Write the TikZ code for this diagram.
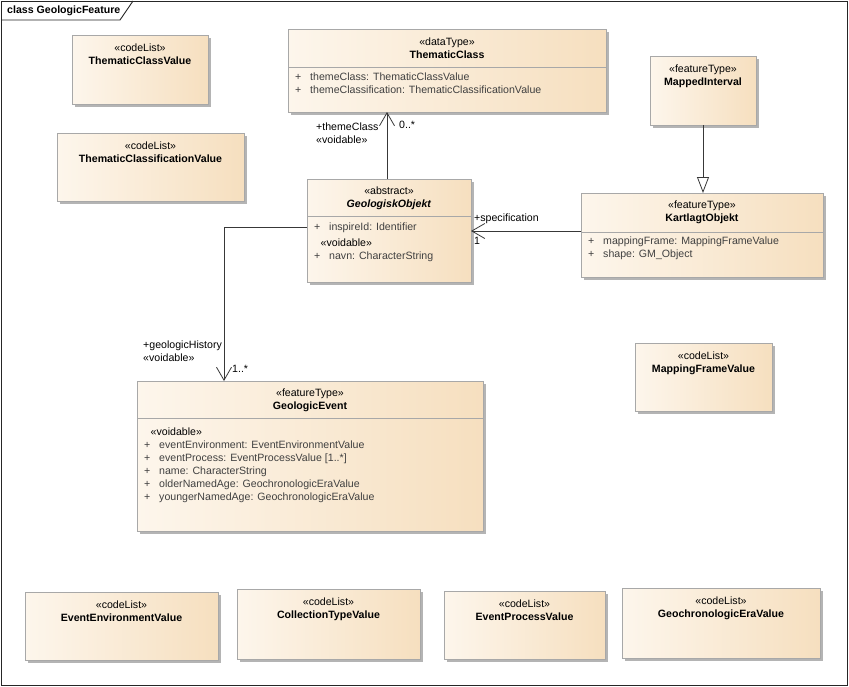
\documentclass[tikz,border=0pt]{standalone}
\usepackage{fontspec}
\setmainfont{Liberation Sans}
\usetikzlibrary{arrows.meta,calc,positioning,shadows}
\definecolor{boxleft}{HTML}{FDF6EC}
\definecolor{boxright}{HTML}{F6DFBF}
\definecolor{boxline}{HTML}{A8A8A8}
\definecolor{boxshadow}{HTML}{B4B4B4}
\colorlet{linkcolor}{black!78}
\colorlet{attrcolor}{black!75}
\newcommand{\plusattr}[1]{\makebox[15pt][l]{+}#1}
\tikzset{
  classbox/.style={
    draw=boxline,
    line width=0.9pt,
    left color=boxleft,
    right color=boxright,
    anchor=north west,
    inner sep=0pt,
    outer sep=0pt,
    general shadow={fill=boxshadow, shadow xshift=3pt, shadow yshift=-3pt}
  },
  classhead/.style={anchor=north, align=center, inner sep=0pt},
  attrs/.style={anchor=north west, align=left, inner sep=0pt, text=attrcolor},
  sepline/.style={boxline, line width=0.9pt},
  frameline/.style={black!85, line width=0.9pt},
  endlabel/.style={inner sep=0pt, text=black},
  assoc/.style={
    linkcolor,
    line width=0.8pt,
    -{Straight Barb[length=13pt,width=15pt]}
  },
  generalization/.style={
    linkcolor,
    line width=0.8pt,
    -{Triangle[open,length=16pt,width=12pt,fill=white]}
  }
}

\begin{document}
\begin{tikzpicture}[x=1pt, y=-1pt, font=\fontsize{10.6}{13}\selectfont]

  % Page and diagram frame.
  \useasboundingbox (0,0) rectangle (849,686);
  \fill[white] (0,0) rectangle (849,686);
  \draw[frameline] (1,1) rectangle (847,685);
  \draw[frameline] (1,20) -- (120,20) -- (133,1);
  \node[anchor=west, inner sep=0pt] (frametitle) at (7,11)
    {\textbf{class GeologicFeature}};

  % Code lists at the top left.
  \node[classbox, minimum width=136pt, minimum height=69pt] (tcv) at (72,35) {};
  \node[classhead] (tcv-t) at ($(tcv.north)+(0,9)$)
    {«codeList»\\\textbf{ThematicClassValue}};

  \node[classbox, minimum width=187pt, minimum height=68pt] (tclv) at (57,133) {};
  \node[classhead] (tclv-t) at ($(tclv.north)+(0,9)$)
    {«codeList»\\\textbf{ThematicClassificationValue}};

  % Thematic class.
  \node[classbox, minimum width=318pt, minimum height=83pt] (tc) at (288,29) {};
  \node[classhead] (tc-t) at ($(tc.north)+(0,9)$)
    {«dataType»\\\textbf{ThematicClass}};
  \draw[sepline] ($(tc.north west)+(0,38)$) -- ($(tc.north east)+(0,38)$);
  \node[attrs] (tc-a) at ($(tc.north west)+(7,44)$)
    {\plusattr{themeClass: ThematicClassValue}\\
     \plusattr{themeClassification: ThematicClassificationValue}};

  % Mapped interval and mapped object.
  \node[classbox, minimum width=106pt, minimum height=69pt] (mi) at (650,56) {};
  \node[classhead] (mi-t) at ($(mi.north)+(0,9)$)
    {«featureType»\\\textbf{MappedInterval}};

  \node[classbox, minimum width=242pt, minimum height=84pt] (ko) at (581,193) {};
  \node[classhead] (ko-t) at ($(ko.north)+(0,8)$)
    {«featureType»\\\textbf{KartlagtObjekt}};
  \draw[sepline] ($(ko.north west)+(0,39)$) -- ($(ko.north east)+(0,39)$);
  \node[attrs] (ko-a) at ($(ko.north west)+(7,44)$)
    {\plusattr{mappingFrame: MappingFrameValue}\\
     \plusattr{shape: GM\_Object}};

  \node[classbox, minimum width=137pt, minimum height=68pt] (mfv) at (635,343) {};
  \node[classhead] (mfv-t) at ($(mfv.north)+(0,9)$)
    {«codeList»\\\textbf{MappingFrameValue}};

  % Abstract geologic object.
  \node[classbox, minimum width=164pt, minimum height=103pt] (go) at (307,179) {};
  \node[classhead] (go-t) at ($(go.north)+(0,8)$)
    {«abstract»\\\textbf{\itshape GeologiskObjekt}};
  \draw[sepline] ($(go.north west)+(0,37)$) -- ($(go.north east)+(0,37)$);
  \node[attrs] (go-a) at ($(go.north west)+(7,44)$)
    {\plusattr{inspireId: Identifier}\\[3pt]
     \hspace*{6.5pt}{\color{black}«voidable»}\\
     \plusattr{navn: CharacterString}};

  % Geologic event.
  \node[classbox, minimum width=346pt, minimum height=150pt] (ge) at (137,381) {};
  \node[classhead] (ge-t) at ($(ge.north)+(0,8)$)
    {«featureType»\\\textbf{GeologicEvent}};
  \draw[sepline] ($(ge.north west)+(0,37)$) -- ($(ge.north east)+(0,37)$);
  \node[attrs] (ge-a) at ($(ge.north west)+(7,47)$)
    {\hspace*{6.5pt}{\color{black}«voidable»}\\
     \plusattr{eventEnvironment: EventEnvironmentValue}\\
     \plusattr{eventProcess: EventProcessValue [1..*]}\\
     \plusattr{name: CharacterString}\\
     \plusattr{olderNamedAge: GeochronologicEraValue}\\
     \plusattr{youngerNamedAge: GeochronologicEraValue}};

  % Code lists along the bottom.
  \node[classbox, minimum width=193pt, minimum height=68pt] (eev) at (25,592) {};
  \node[classhead] (eev-t) at ($(eev.north)+(0,9)$)
    {«codeList»\\\textbf{EventEnvironmentValue}};

  \node[classbox, minimum width=183pt, minimum height=70pt] (ctv) at (237,589) {};
  \node[classhead] (ctv-t) at ($(ctv.north)+(0,9)$)
    {«codeList»\\\textbf{CollectionTypeValue}};

  \node[classbox, minimum width=161pt, minimum height=68pt] (epv) at (444,591) {};
  \node[classhead] (epv-t) at ($(epv.north)+(0,9)$)
    {«codeList»\\\textbf{EventProcessValue}};

  \node[classbox, minimum width=198pt, minimum height=70pt] (gev) at (622,588) {};
  \node[classhead] (gev-t) at ($(gev.north)+(0,9)$)
    {«codeList»\\\textbf{GeochronologicEraValue}};

  % Relations.
  \coordinate (histbend) at (224,227);
  \draw[assoc] ([xshift=-2pt]go.north) -- ([xshift=-2pt]go.north |- tc.south);
  \draw[assoc] (ko.west |- 0,231) -- (go.east |- 0,231);
  \draw[assoc] (go.west |- histbend) -- (histbend) -- (histbend |- ge.north);
  \draw[generalization] (mi.south) -- (mi.south |- ko.north);

  % Role names and multiplicities.
  \node[endlabel, anchor=west, align=left] (themerole) at (316,133)
    {+themeClass\\«voidable»};
  \node[endlabel, anchor=west] (thememult) at (399,125) {0..*};
  \node[endlabel, anchor=west] (specrole) at (474,219) {+specification};
  \node[endlabel, anchor=west] (specmult) at (474,241) {1};
  \node[endlabel, anchor=west, align=left] (histrole) at (143,351)
    {+geologicHistory\\«voidable»};
  \node[endlabel, anchor=west] (histmult) at (232,369) {1..*};

\end{tikzpicture}
\end{document}
